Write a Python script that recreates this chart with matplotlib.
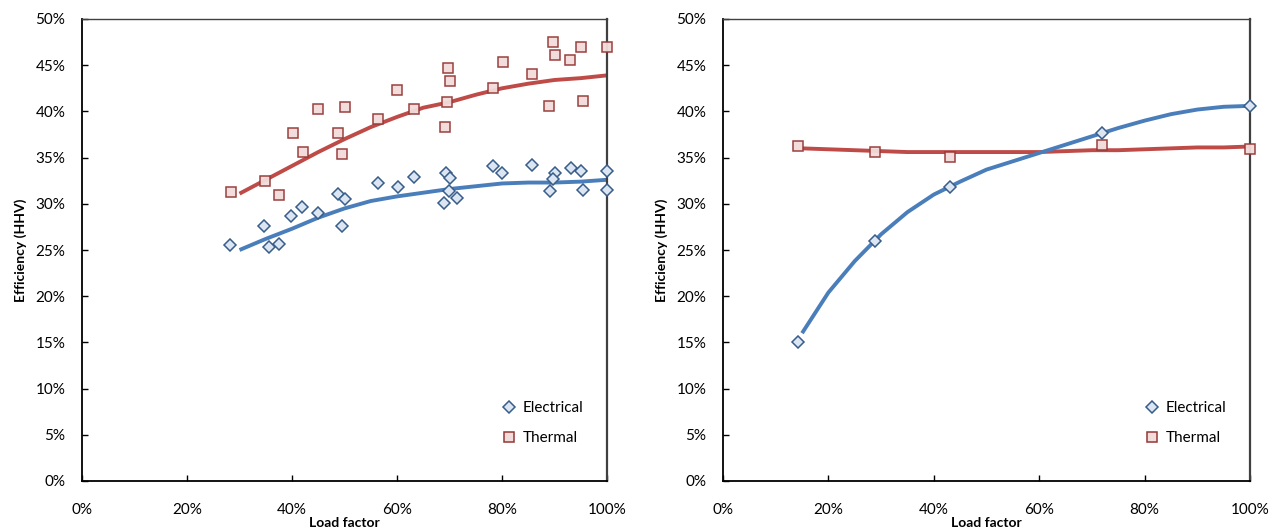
import matplotlib
matplotlib.use("Agg")
import matplotlib.pyplot as plt
from matplotlib.ticker import FuncFormatter, MultipleLocator
from matplotlib.lines import Line2D

plt.rcParams['font.family'] = ['Lato', 'DejaVu Sans']

# ---------------- Left panel data (load factor %, efficiency %) ----------------
left_elec_x = [28.2, 34.7, 35.6, 37.5, 39.9, 41.9, 45.0, 48.8, 50.0, 49.5, 56.3, 60.1,
               63.3, 69.3, 70.1, 69.9, 69.0, 71.4, 78.2, 80.0, 85.7, 90.1, 89.8, 89.1,
               93.1, 95.1, 95.5, 100.0, 100.0]
left_elec_y = [25.5, 27.6, 25.3, 25.6, 28.7, 29.7, 29.0, 31.1, 30.5, 27.6, 32.3, 31.8,
               32.9, 33.3, 32.8, 31.4, 30.1, 30.6, 34.1, 33.3, 34.2, 33.3, 32.7, 31.4,
               33.9, 33.5, 31.5, 33.5, 31.5]
left_therm_x = [28.3, 34.9, 37.5, 40.1, 42.0, 45.0, 48.8, 49.5, 50.0, 56.3, 60.0, 63.2,
                69.1, 69.5, 69.8, 70.1, 78.2, 80.1, 85.7, 89.0, 89.8, 90.0, 93.0, 95.1,
                95.5, 100.0]
left_therm_y = [31.3, 32.5, 30.9, 37.7, 35.6, 40.3, 37.7, 35.4, 40.5, 39.2, 42.3, 40.3,
                38.3, 41.0, 44.7, 43.3, 42.5, 45.3, 44.1, 40.6, 47.5, 46.1, 45.6, 47.0,
                41.1, 47.0]
left_curve_x = [30, 35, 40, 45, 50, 55, 60, 65, 70, 75, 80, 85, 90, 95, 100]
left_elec_curve = [25.0, 26.2, 27.3, 28.5, 29.5, 30.3, 30.8, 31.2, 31.6, 31.9, 32.2,
                   32.3, 32.3, 32.4, 32.6]
left_therm_curve = [31.1, 32.6, 34.1, 35.6, 37.0, 38.3, 39.4, 40.4, 41.0, 41.8, 42.5,
                    43.0, 43.4, 43.6, 43.9]

# ---------------- Right panel data ----------------
right_x = [14.2, 28.8, 43.1, 72.0, 100.0]
right_elec_y = [15.0, 26.0, 31.8, 37.7, 40.6]
right_therm_y = [36.3, 35.6, 35.1, 36.4, 35.9]
right_curve_x = [15, 20, 25, 30, 35, 40, 45, 50, 55, 60, 65, 70, 75, 80, 85, 90, 95, 100]
right_elec_curve = [16.0, 20.4, 23.8, 26.7, 29.1, 31.0, 32.4, 33.7, 34.6, 35.5, 36.4,
                    37.3, 38.2, 39.0, 39.7, 40.2, 40.5, 40.6]
right_therm_curve = [36.0, 35.9, 35.8, 35.7, 35.6, 35.6, 35.6, 35.6, 35.6, 35.6, 35.7,
                     35.8, 35.8, 35.9, 36.0, 36.1, 36.1, 36.2]

series_labels = ["Electrical", "Thermal"]

BLUE_LINE = "#4A7EBB"
RED_LINE = "#BE4B48"
BLUE_FACE = "#DCE6F2"
BLUE_EDGE = "#385D8A"
RED_FACE = "#F2DCDB"
RED_EDGE = "#953735"

fig = plt.figure(figsize=(12.73, 5.31), dpi=100)
ax1 = fig.add_axes([82/1273, 50/531, 525/1273, 462/531])
ax2 = fig.add_axes([723/1273, 50/531, 527/1273, 462/531])

pct = FuncFormatter(lambda v, p: f"{v:.0f}%")


def style(ax):
    ax.set_xlim(0, 100)
    ax.set_ylim(0, 50)
    ax.xaxis.set_major_locator(MultipleLocator(20))
    ax.yaxis.set_major_locator(MultipleLocator(5))
    ax.xaxis.set_major_formatter(pct)
    ax.yaxis.set_major_formatter(pct)
    ax.tick_params(axis='both', direction='in', length=4, width=1, labelsize=11,
                   colors='black')
    ax.tick_params(axis='y', pad=12)
    ax.tick_params(axis='x', pad=16)
    for s in ax.spines.values():
        s.set_linewidth(1.3)
        s.set_color('black')
    ax.spines['right'].set_color('#404040')
    ax.spines['top'].set_color('#404040')
    ax.spines['right'].set_linewidth(1.6)
    ax.spines['top'].set_linewidth(1.0)
    ax.set_xlabel("Load factor", fontsize=10, fontweight='bold', labelpad=0)
    ax.set_ylabel("Efficiency (HHV)", fontsize=10, fontweight='bold', labelpad=6)
    ax.xaxis.set_label_coords(0.5, -0.077)


def legend(ax):
    handles = [
        Line2D([], [], linestyle='none', marker='D', markersize=6.5,
               markerfacecolor=BLUE_FACE, markeredgecolor=BLUE_EDGE, markeredgewidth=1.1),
        Line2D([], [], linestyle='none', marker='s', markersize=7,
               markerfacecolor=RED_FACE, markeredgecolor=RED_EDGE, markeredgewidth=1.1),
    ]
    ax.legend(handles, series_labels, loc='center left', bbox_to_anchor=(0.79, 0.125),
              frameon=False, fontsize=11, handlelength=0.8, handletextpad=0.5,
              labelspacing=1.05, borderaxespad=0)


for ax, ex, ey, tx, ty, cx, ce, ct in [
    (ax1, left_elec_x, left_elec_y, left_therm_x, left_therm_y,
     left_curve_x, left_elec_curve, left_therm_curve),
    (ax2, right_x, right_elec_y, right_x, right_therm_y,
     right_curve_x, right_elec_curve, right_therm_curve),
]:
    style(ax)
    ax.plot(cx, ct, color=RED_LINE, lw=2.8, solid_capstyle='butt', zorder=2)
    ax.plot(cx, ce, color=BLUE_LINE, lw=2.8, solid_capstyle='butt', zorder=2)
    ax.plot(tx, ty, linestyle='none', marker='s', markersize=7,
            markerfacecolor=RED_FACE, markeredgecolor=RED_EDGE, markeredgewidth=1.1,
            alpha=0.95, zorder=3, clip_on=False)
    ax.plot(ex, ey, linestyle='none', marker='D', markersize=6.5,
            markerfacecolor=BLUE_FACE, markeredgecolor=BLUE_EDGE, markeredgewidth=1.1,
            zorder=4, clip_on=False)
    legend(ax)

fig.savefig("out.png", dpi=100)
